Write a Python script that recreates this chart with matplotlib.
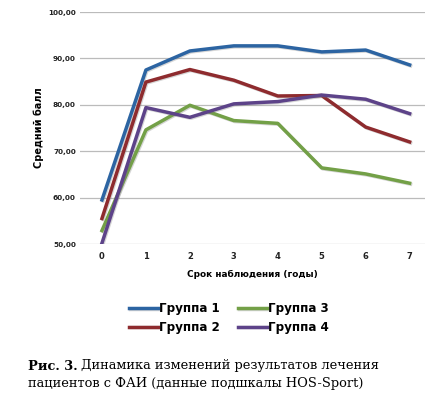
import matplotlib
matplotlib.use("Agg")
import matplotlib.pyplot as plt
import matplotlib.patheffects as pe

years = [0, 1, 2, 3, 4, 5, 6, 7]
group1 = [59.5, 87.5, 91.6, 92.7, 92.7, 91.4, 91.8, 88.6]
group2 = [55.5, 84.9, 87.6, 85.3, 81.9, 82.0, 75.2, 72.0]
group3 = [52.9, 74.6, 79.9, 76.6, 76.0, 66.4, 65.1, 63.1]
group4 = [50.2, 79.4, 77.3, 80.2, 80.7, 82.1, 81.2, 78.1]
labels = ["Группа 1", "Группа 2", "Группа 3", "Группа 4"]
colors = ["#2C64A2", "#8E2B2E", "#73A047", "#5D4389"]
yticks = [50, 60, 70, 80, 90, 100]

W, H = 434, 396
fig = plt.figure(figsize=(W / 100, H / 100), dpi=100)
ax = fig.add_axes([80 / W, 1 - 244 / H, (425 - 80) / W, (244 - 12) / H])

shadow = [pe.SimpleLineShadow(offset=(0.7, -0.7), shadow_color="#777777", alpha=0.3), pe.Normal()]
handles = []
for vals, lab, c in zip([group1, group2, group3, group4], labels, colors):
    h, = ax.plot(years, vals, color=c, lw=2.5, label=lab, path_effects=shadow,
                 solid_joinstyle="round", zorder=3)
    handles.append(h)

ax.set_ylim(50, 100)
ax.set_xlim(-0.5, 7.35)
ax.set_yticks(yticks)
ax.set_yticklabels([f"{v:.2f}".replace(".", ",") for v in yticks],
                   fontsize=5.2, fontweight="bold", color="#222222")
ax.set_xticks(years)
ax.set_xticklabels([str(y) for y in years], fontsize=6, fontweight="bold", color="#222222")
ax.tick_params(length=0, pad=6)
ax.tick_params(axis="y", pad=3)
ax.grid(axis="y", color="#BBBBBB", lw=0.9)
ax.set_axisbelow(True)
for s in ax.spines.values():
    s.set_visible(False)

ax.set_ylabel("Средний балл", fontsize=7, fontweight="bold", labelpad=3)
ax.set_xlabel("Срок наблюдения (годы)", fontsize=6.4, fontweight="bold", labelpad=6)

leg = fig.legend(handles=handles, labels=labels, ncol=2, loc="center",
                 bbox_to_anchor=(229 / W, 1 - 318 / H), frameon=False,
                 prop={"size": 8.6, "weight": "bold"}, handlelength=2.4,
                 handletextpad=0.1, columnspacing=1.5, labelspacing=0.45)

t1 = fig.text(28 / W, 1 - 366 / H, "Рис. 3.", fontsize=9.4, va="center",
              family="DejaVu Serif", fontweight="bold")
fig.canvas.draw()
bb = t1.get_window_extent()
fig.text(bb.x1 / W + 3 / W, 1 - 366 / H, "Динамика изменений результатов лечения",
         fontsize=9.4, va="center", family="DejaVu Serif")
fig.text(28 / W, 1 - 383 / H, "пациентов с ФАИ (данные подшкалы HOS-Sport)",
         fontsize=9.4, va="center", family="DejaVu Serif")

fig.savefig("out.png", dpi=100)
